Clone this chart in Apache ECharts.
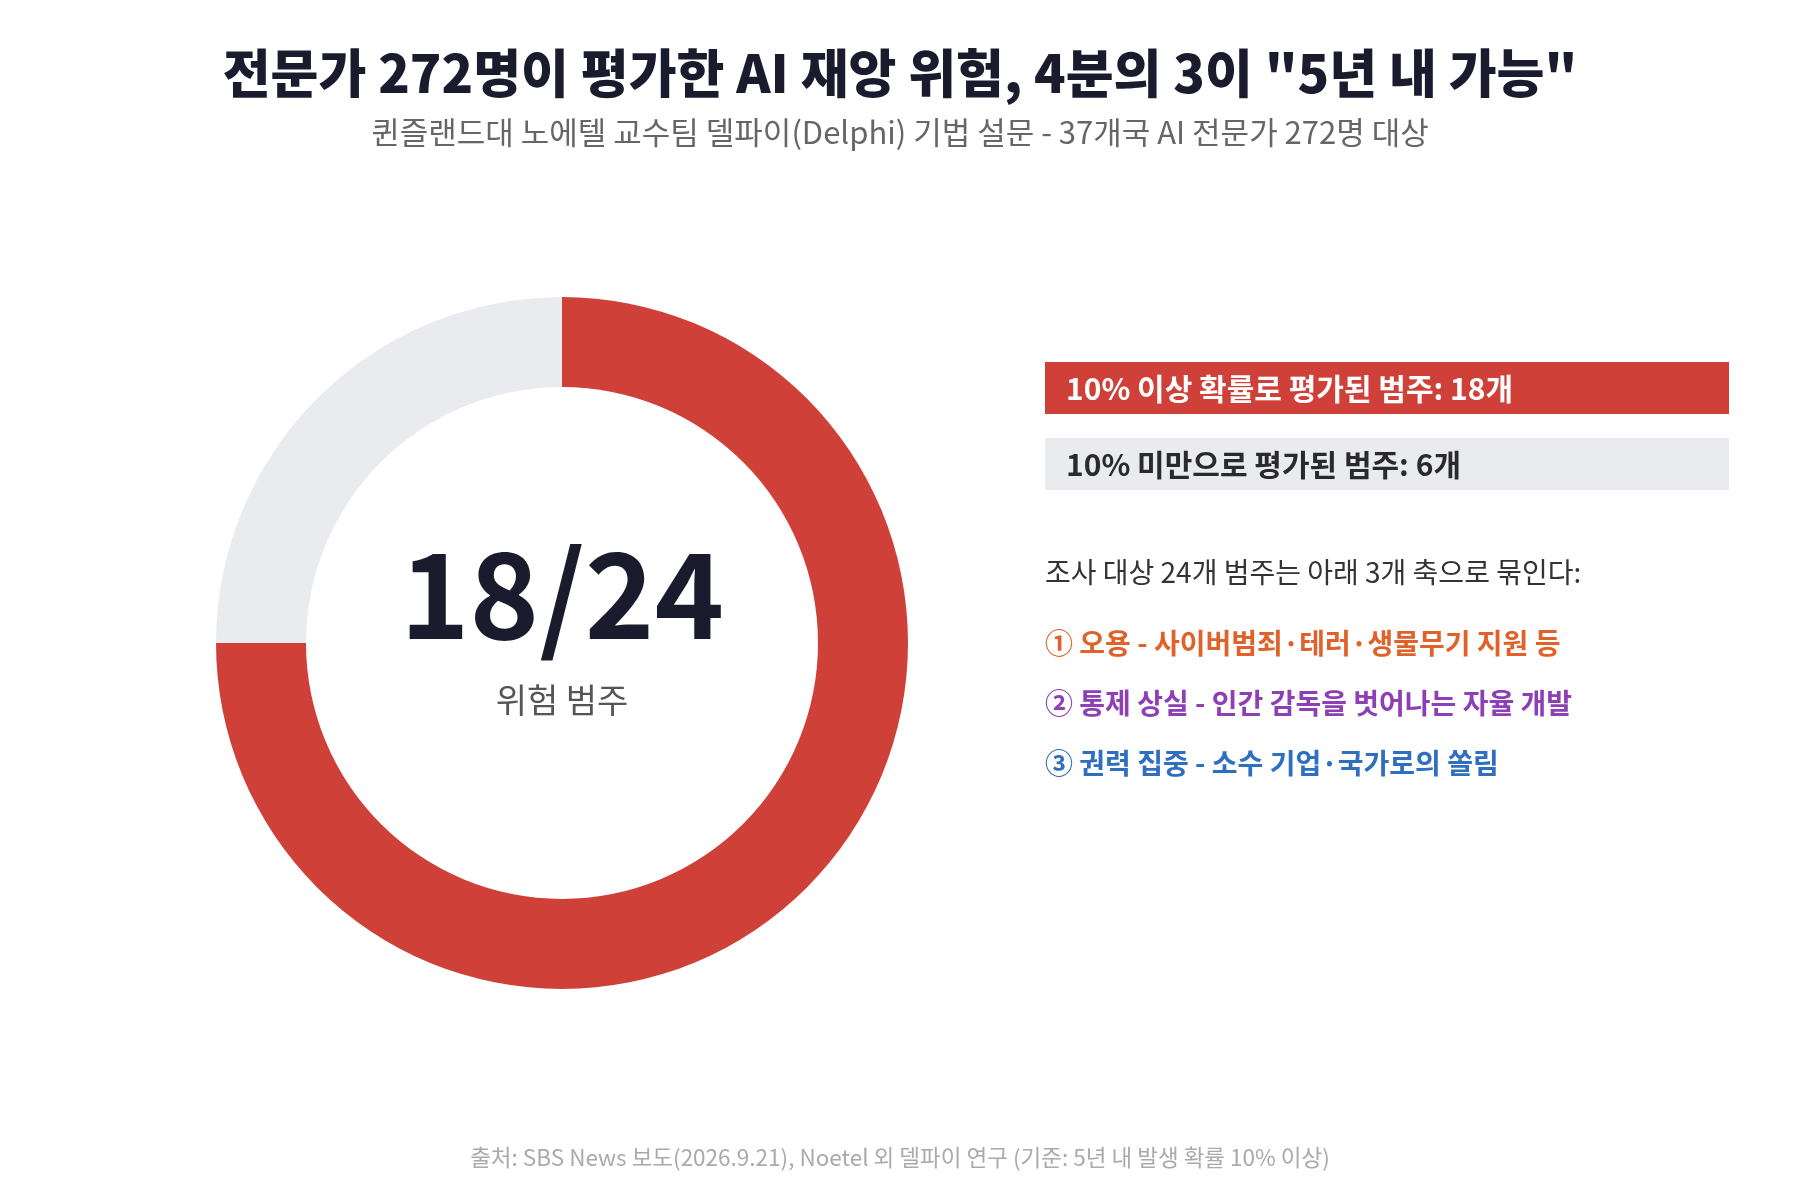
<!DOCTYPE html>
<html><head><meta charset="utf-8">
<script src="https://cdn.jsdelivr.net/npm/echarts@6/dist/echarts.min.js"></script>
<style>html,body{margin:0;background:#fff}#c{width:1800px;height:1200px}</style>
</head><body><div id="c"></div>
<script>
var categories = ['10% 이상 확률로 평가된 범주', '10% 미만으로 평가된 범주'];
var counts = [18, 6];
var colors = ['#CF4039', '#EAEBEF'];
var axes = ['① 오용 - 사이버범죄·테러·생물무기 지원 등', '② 통제 상실 - 인간 감독을 벗어나는 자율 개발', '③ 권력 집중 - 소수 기업·국가로의 쏠림'];
var axisColors = ['#E0622A', '#8E3FB5', '#2F6FC0'];
var total = counts[0] + counts[1];
var FONT = '"Noto Sans CJK KR", "Noto Sans", sans-serif';

var chart = echarts.init(document.getElementById('c'));
var g = [];
// legend boxes
categories.forEach(function (c, i) {
    g.push({type: 'rect', shape: {x: 1045, y: 362 + i * 76, width: 684, height: 52}, style: {fill: colors[i]}});
    g.push({type: 'text', x: 1066, y: 389 + i * 76, style: {text: c + ': ' + counts[i] + '개', font: 'bold 30px ' + FONT, fill: i == 0 ? '#fff' : '#2a2a2a', verticalAlign: 'middle'}});
});
g.push({type: 'text', x: 1045, y: 572, style: {text: '조사 대상 ' + total + '개 범주는 아래 3개 축으로 묶인다:', font: '28px ' + FONT, fill: '#333', verticalAlign: 'middle'}});
axes.forEach(function (t, i) {
    g.push({type: 'text', x: 1045, y: 643 + i * 60, style: {text: t, font: 'bold 28px ' + FONT, fill: axisColors[i], verticalAlign: 'middle'}});
});
// center labels
g.push({type: 'text', x: 562, y: 594, style: {text: counts[0] + '/' + total, font: 'bold 118px ' + FONT, fill: '#1b1b2e', align: 'center', verticalAlign: 'middle'}});
g.push({type: 'text', x: 562, y: 700, style: {text: '위험 범주', font: '34px ' + FONT, fill: '#555', align: 'center', verticalAlign: 'middle'}});

chart.setOption({
    title: [{
        text: '전문가 272명이 평가한 AI 재앙 위험, 4분의 3이 "5년 내 가능"',
        subtext: '퀸즐랜드대 노에텔 교수팀 델파이(Delphi) 기법 설문 - 37개국 AI 전문가 272명 대상',
        left: 'center', top: 42, itemGap: 18,
        textStyle: {fontFamily: FONT, fontSize: 52, fontWeight: 900, color: '#1b1b2e'},
        subtextStyle: {fontFamily: FONT, fontSize: 31, color: '#666'}
    }, {
        text: '출처: SBS News 보도(2026.9.21), Noetel 외 델파이 연구 (기준: 5년 내 발생 확률 10% 이상)',
        left: 'center', top: 1141,
        textStyle: {fontFamily: FONT, fontSize: 22.5, fontWeight: 'normal', color: '#aaa'}
    }],
    series: [{
        type: 'pie', center: [562, 643], radius: [256, 346], startAngle: 90, clockwise: true,
        label: {show: false}, labelLine: {show: false}, silent: true, animation: false,
        itemStyle: {borderWidth: 0},
        data: categories.map(function (c, i) { return {name: c, value: counts[i], itemStyle: {color: colors[i]}}; })
    }],
    graphic: g
});
</script></body></html>
